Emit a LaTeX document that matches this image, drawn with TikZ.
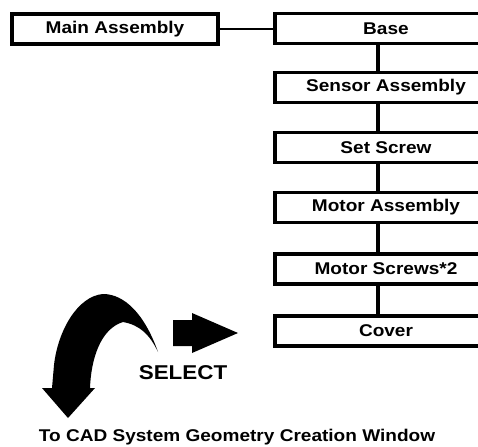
\documentclass[tikz,border=0pt]{standalone}
\usepackage{fontspec}
\setmainfont{Liberation Sans}[FakeStretch=1.12]
\begin{document}
\begin{tikzpicture}[x=1pt,y=-1pt,
  box/.style={draw,line width=3.5pt,fill=white,minimum height=30pt,inner sep=0pt,
    font=\fontsize{17}{20}\selectfont\bfseries},
  link/.style={line width=3.5pt}]
\useasboundingbox (0,0) rectangle (478,446);
\node[box,minimum width=206pt] (main) at (115,29) {Main Assembly};
\node[box,minimum width=222pt] (base) at (386,28.5) {Base};
\node[box,minimum width=222pt] (sensor) at (386,87.5) {Sensor Assembly};
\node[box,minimum width=222pt] (set) at (386,147.5) {Set Screw};
\node[box,minimum width=222pt] (motor) at (386,207.5) {Motor Assembly};
\node[box,minimum width=222pt] (screws) at (386,269) {Motor Screws*2};
\node[box,minimum width=222pt] (cover) at (386,331) {Cover};
\coordinate (lx) at (378,0);
\draw[line width=2pt] (main.east) -- (main.east -| base.west);
\draw[link] (base.south -| lx) -- (sensor.north -| lx);
\draw[link] (sensor.south -| lx) -- (set.north -| lx);
\draw[link] (set.south -| lx) -- (motor.north -| lx);
\draw[link] (motor.south -| lx) -- (screws.north -| lx);
\draw[link] (screws.south -| lx) -- (cover.north -| lx);
% curved arrow
\fill (158,352) .. controls (145,315) and (125,294) .. (103,294)
  .. controls (78,296) and (58,330) .. (54,365)
  -- (52,388) -- (42,388) -- (68,418) -- (95,388) -- (90,388)
  .. controls (91,360) and (100,329) .. (123,322)
  .. controls (140,325) and (150,335) .. (158,352) -- cycle;
% right block arrow
\fill (173,320) -- (192,320) -- (192,313) -- (238,333) -- (192,353) -- (192,346) -- (173,346) -- cycle;
\node[font=\fontsize{20}{22}\selectfont\bfseries] (select) at (183,373) {SELECT};
\node[font=\fontsize{17}{20}\selectfont\bfseries] (cad) at (237,437) {To CAD System Geometry Creation Window};
\end{tikzpicture}
\end{document}
